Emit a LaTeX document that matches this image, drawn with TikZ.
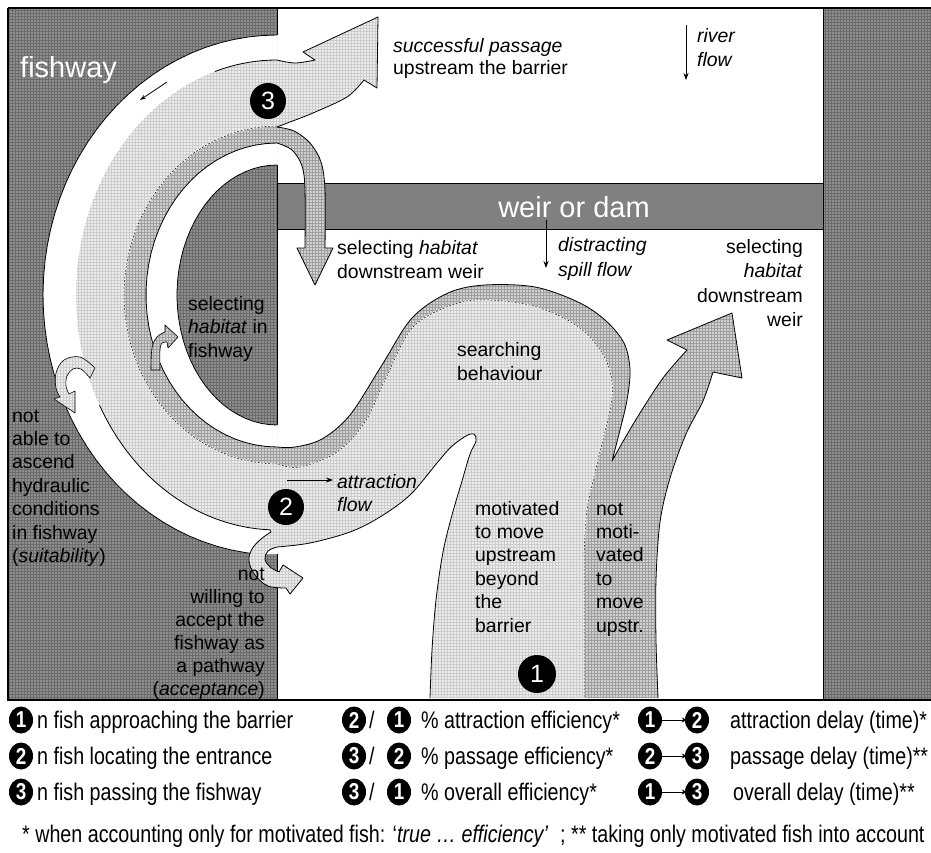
\documentclass[tikz,border=0pt]{standalone}
\usepackage{fontspec}
\setmainfont{Liberation Sans}
\newfontfamily\narrowfont[FakeStretch=0.82]{Liberation Sans}
\usetikzlibrary{patterns,arrows.meta,shapes.geometric}
\definecolor{wallbase}{gray}{0.56}
\definecolor{wallgrid}{gray}{0.42}
\definecolor{weirc}{gray}{0.50}
\definecolor{medbase}{gray}{0.82}
\definecolor{medgrid}{gray}{0.62}
\definecolor{lightbase}{gray}{0.93}
\definecolor{lightgrid}{gray}{0.80}
% medium ribbon, solid (white side) edge
\def\Msolid{(658,698) -- plot[smooth,tension=0.55] coordinates {(658,698) (656,640) (656,580) (660,522) (670,478) (686,434) (703,401) (713,372)} -- (742,378) -- (732,313) -- (667,340) -- (687,350) -- plot[smooth,tension=0.55] coordinates {(687,350) (663,378) (640,413) (625,438) (612,461)} -- plot[smooth,tension=0.55] coordinates {(612,461) (620,430) (627,400) (630,370) (624,343) (605,320) (578,302) (535,287) (485,285) (448,293) (412,318) (382,365) (350,415) (322,439) (295,447) (277,447)} -- plot[domain=180:0,samples=40] ({277-131*sin(\x)},{295-152*cos(\x)}) -- plot[smooth,tension=0.55] coordinates {(277,143) (292,150) (302,166) (305,190) (305,248)} -- (297,248) -- (315,285) -- (333,248) -- (325,248) -- plot[smooth,tension=0.55] coordinates {(325,248) (325,190) (321,162) (310,143) (294,131) (277,127)}}
% boundary between light and medium bands (dashed), starts with --
\def\Mdash{-- plot[domain=0:180,samples=40] ({277-153*sin(\x)},{295-169*cos(\x)}) -- plot[smooth,tension=0.55] coordinates {(277,464) (300,467) (337,452) (365,422) (385,380) (413,327) (455,304) (490,300) (537,307) (580,328) (606,360) (612,397) (598,460) (587,510) (584,560)} -- (584,698)}
% light band, solid edge: column, finger, attraction line, entrance U-arrow
\def\Lsolid{(430,698) -- plot[smooth,tension=0.55] coordinates {(430,698) (432,650) (436,600) (443,552) (452,515) (462,481) (470,454) (476,441) (474,434) (466,436) (451,447) (437,463) (410,495) (380,517) (350,532) (310,543) (277,547)} -- plot[smooth,tension=0.6] coordinates {(277,547) (268,551) (265,559) (270,567) (279,572)} -- (283,565) -- (303,578) -- (290,594) -- (286,588) -- plot[smooth,tension=0.6] coordinates {(286,588) (268,586) (255,575) (249,561) (252,549) (261,539) (271,532)}}
% successful passage arrow, starts with --
\def\Larrow{-- plot[smooth,tension=0.6] coordinates {(277,60) (295,63) (315,60)} -- (303,52) -- (378,17) -- (377,88) -- (364,80) -- plot[smooth,tension=0.55] coordinates {(364,80) (347,97) (313,113) (290,122) (277,127)}}
\begin{document}
\begin{tikzpicture}[x=1pt,y=-1pt,
  wall/.style={preaction={fill=wallbase},pattern=grid,pattern color=wallgrid},
  medium/.style={preaction={fill=medbase},pattern=grid,pattern color=medgrid},
  lightband/.style={preaction={fill=lightbase},pattern=grid,pattern color=lightgrid},
  edge/.style={draw=black,line width=0.8pt,line join=round},
  thinedge/.style={draw=black,line width=0.6pt,line join=round},
  flowarrow/.style={draw=black,line width=0.8pt,-{Stealth[length=7pt,width=5pt]}},
  lbl/.style={inner sep=0pt,align=left,anchor=base west,font=\fontsize{19.4}{23.4}\selectfont},
  lblr/.style={inner sep=0pt,align=right,anchor=base east,font=\fontsize{19.4}{23.4}\selectfont},
  big/.style={inner sep=0pt,text=white,font=\fontsize{29}{29}\selectfont},
  bignum/.style={circle,fill=black,text=white,inner sep=0pt,minimum size=36pt,font=\fontsize{25}{25}\selectfont},
  num/.style={ellipse,fill=black,text=white,inner sep=0pt,minimum width=24pt,minimum height=27pt,font=\narrowfont\bfseries\fontsize{23}{23}\selectfont},
  leg/.style={inner sep=0pt,anchor=base west,font=\narrowfont\fontsize{24}{24}\selectfont},
  legarrow/.style={draw=black,line width=0.9pt,-{Stealth[length=5pt,width=5pt]},shorten <=-2pt,shorten >=-2pt}
]
\useasboundingbox (0,0) rectangle (931,853);
\fill[white] (0,0) rectangle (931,853);
% walls
\path[wall] (8,8) rectangle (277,700);
\path[wall] (823,8) rectangle (945,700);
% white fishway channel
\fill[white] (277,35) -- plot[domain=0:176,samples=50] ({277-234*sin(\x)},{295-260*cos(\x)}) -- (277,554) -- (277,425) -- plot[domain=180:0,samples=40] ({277-100*sin(\x)},{295-130*cos(\x)}) -- cycle;
\draw[edge] plot[domain=0:176,samples=50] ({277-234*sin(\x)},{295-260*cos(\x)});
\draw[edge] plot[domain=0:180,samples=40] ({277-100*sin(\x)},{295-130*cos(\x)});
\draw[edge] (277,8) -- (277,35);
\draw[edge] (277,165) -- (277,425);
\draw[edge] (277,554) -- (277,700);
\draw[edge] (823,8) -- (823,700);
% weir
\path[fill=weirc,edge] (277,183) rectangle (823,229);
\node[big,anchor=base] (tweir) at (574,218) {weir or dam};
\node[big,anchor=base west] (tfish) at (20,78) {fishway};
% bands
\path[lightband] \Lsolid -- plot[domain=178:0,samples=50] ({277-201*sin(\x)},{295-235*cos(\x)}) \Larrow \Mdash -- cycle;
\path[medium] \Msolid \Mdash -- cycle;
\draw[edge] \Lsolid -- plot[domain=178:118,samples=20] ({277-201*sin(\x)},{295-235*cos(\x)});
\draw[edge] plot[domain=18:0,samples=10] ({277-201*sin(\x)},{295-235*cos(\x)}) \Larrow;
\draw[edge] \Msolid;
\draw[white,line width=1.2pt] (277,126) \Mdash;
\draw[black,line width=0.5pt,dash pattern=on 2pt off 1.5pt] (277,126) \Mdash;
% small hook arrow (not able to ascend)
\path[lightband,thinedge] plot[smooth,tension=0.6] coordinates {(95,368) (80,357) (64,360) (56,373) (56,388) (60,397)} -- (54,399) -- (75,413) -- (75,391) -- (69,394) -- plot[smooth,tension=0.6] coordinates {(69,394) (66,386) (67,376) (73,369) (81,369) (90,378)} -- cycle;
% small arrow (habitat in fishway)
\path[medium,thinedge] plot[smooth,tension=0.6] coordinates {(151,370) (152,348) (157,337) (165,332)} -- (165,325) -- (178,337) -- (168,348) -- (167,342) -- plot[smooth,tension=0.6] coordinates {(167,342) (162,343) (160,350) (160,370)} -- cycle;
% flow arrows
\coordinate (fw1) at (167,82); \coordinate (fw2) at (140,100);
\draw[flowarrow,-{Stealth[length=6pt,width=4pt]}] (fw1) -- (fw2);
\coordinate (rf1) at (686,25); \coordinate (rf2) at (686,80);
\draw[flowarrow] (rf1) -- (rf2);
\coordinate (sp1) at (546,220); \coordinate (sp2) at (546,268);
\draw[flowarrow] (sp1) -- (sp2);
\coordinate (af1) at (287,480); \coordinate (af2) at (333,480);
\draw[flowarrow] (af1) -- (af2);
% numbered circles
\node[bignum] (c3) at (268,101) {3};
\node[bignum] (c2) at (286,507) {2};
\node[bignum,minimum size=38pt] (c1) at (537,674) {1};
% labels (anchor = baseline of the last line)
\node[lbl,font=\fontsize{19.4}{22}\selectfont] (tsucc) at (393,75) {\textit{successful passage}\\upstream the barrier};
\node[lbl,font=\fontsize{19.4}{24}\selectfont] (triver) at (697,67) {\textit{river}\\\textit{flow}};
\node[lbl,font=\fontsize{19.4}{24}\selectfont] (tsel1) at (337,278) {selecting \textit{habitat}\\downstream weir};
\node[lbl,font=\fontsize{19.4}{25}\selectfont] (tdist) at (558,276) {\textit{distracting}\\\textit{spill flow}};
\node[lblr,font=\fontsize{19.4}{24.5}\selectfont] (tsel2) at (803,326.5) {selecting\\\textit{habitat}\\downstream\\weir};
\node[lbl,font=\fontsize{19.4}{24}\selectfont] (tsearch) at (457,380) {searching\\behaviour};
\node[lbl,font=\fontsize{19.4}{23.5}\selectfont] (tselfw) at (188,357) {selecting\\\textit{habitat} in\\fishway};
\node[lbl] (tmot) at (475,632) {motivated\\to move\\upstream\\beyond\\the\\barrier};
\node[lbl] (tnot) at (596,632) {not\\moti-\\vated\\to\\move\\upstr.};
\node[lbl] (tattr) at (337,511.4) {\textit{attraction}\\\textit{flow}};
\node[lbl] (tsuit) at (12,562.4) {not\\able to\\ascend\\hydraulic\\conditions\\in fishway\\(\textit{suitability})};
\node[lblr,font=\fontsize{19.4}{23}\selectfont] (tacc) at (265,695) {not\\willing to\\accept the\\fishway as\\a pathway\\(\textit{acceptance})};
% frame
\draw[line width=1.2pt] (8,8) -- (945,8);
\draw[line width=1.2pt] (945,700) -- (8,700) -- (8,8);
% legend row 1
\node[num] (a1) at (21,720) {1};
\node[leg] (a1t) at (37,728.5) {n fish approaching the barrier};
\node[num] (a2) at (354,720) {2};
\node[leg] (a2s) at (369,728.5) {/};
\node[num] (a3) at (399,720) {1};
\node[leg] (a3t) at (421,728.5) {\% attraction efficiency*};
\node[num] (a4) at (650,720) {1};
\node[num] (a5) at (697,720) {2};
\draw[legarrow] (a4) -- (a5);
\node[leg] (a5t) at (730,728.5) {attraction delay (time)*};
% legend row 2
\node[num] (b1) at (21,756) {2};
\node[leg] (b1t) at (37,764.5) {n fish locating the entrance};
\node[num] (b2) at (354,756) {3};
\node[leg] (b2s) at (369,764.5) {/};
\node[num] (b3) at (399,756) {2};
\node[leg] (b3t) at (421,764.5) {\% passage efficiency*};
\node[num] (b4) at (650,756) {2};
\node[num] (b5) at (697,756) {3};
\draw[legarrow] (b4) -- (b5);
\node[leg] (b5t) at (730,764.5) {passage delay (time)**};
% legend row 3
\node[num] (d1) at (21,792) {3};
\node[leg] (d1t) at (37,800.5) {n fish passing the fishway};
\node[num] (d2) at (354,792) {3};
\node[leg] (d2s) at (369,800.5) {/};
\node[num] (d3) at (399,792) {1};
\node[leg] (d3t) at (421,800.5) {\% overall efficiency*};
\node[num] (d4) at (650,792) {1};
\node[num] (d5) at (697,792) {3};
\draw[legarrow] (d4) -- (d5);
\node[leg] (d5t) at (733,800.5) {overall delay (time)**};
% footnote
\node[leg] (foot) at (22,842) {* when accounting only for motivated fish: ‘\textit{true … efficiency’}\hspace{12pt}; ** taking only motivated fish into account};
\end{tikzpicture}
\end{document}
